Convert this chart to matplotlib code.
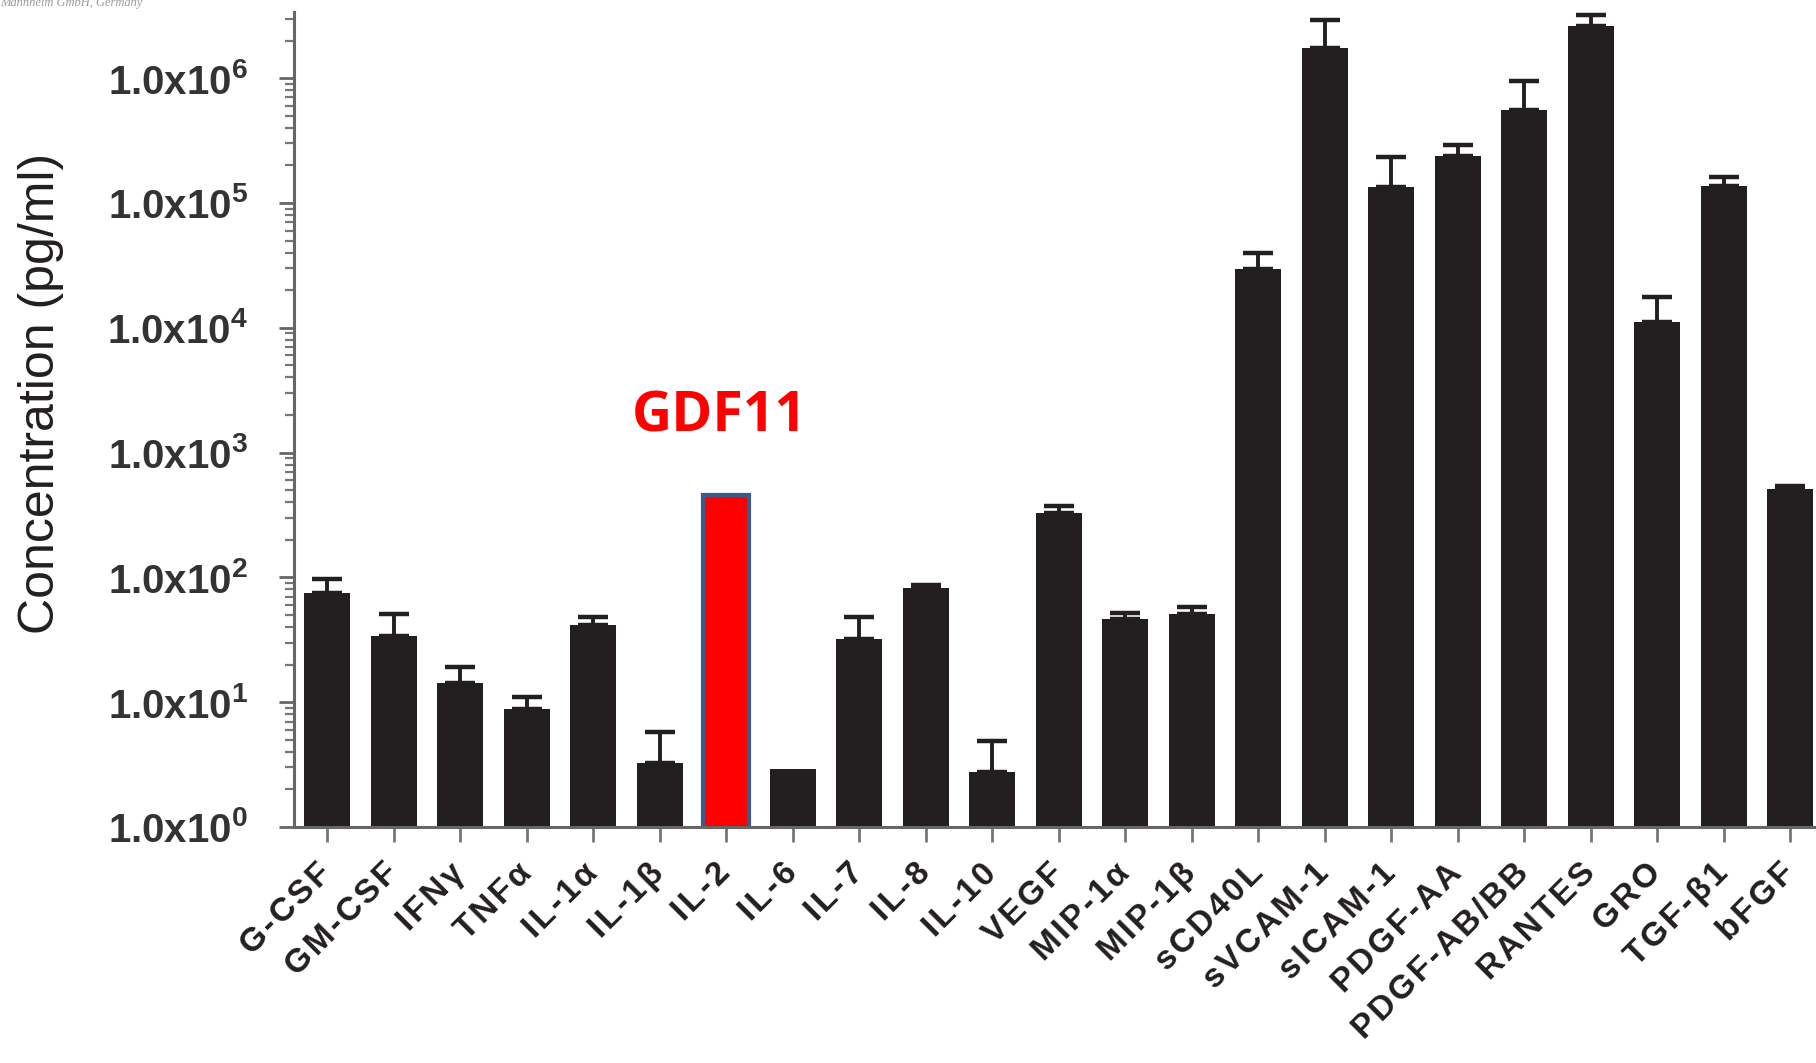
import numpy as np
import matplotlib
matplotlib.use("Agg")
import matplotlib.pyplot as plt
from matplotlib.ticker import FixedLocator, LogLocator, NullFormatter

plt.rcParams["font.family"] = ["Liberation Sans", "DejaVu Sans"]
plt.rcParams["mathtext.fontset"] = "custom"
plt.rcParams["mathtext.rm"] = "Liberation Sans"
plt.rcParams["mathtext.bf"] = "Liberation Sans:bold"

# Cytokine / growth-factor panel, mean concentration and upper error (pg/ml)
analytes = ["G-CSF", "GM-CSF", "IFN\u03b3", "TNF\u03b1", "IL-1\u03b1", "IL-1\u03b2",
            "IL-2", "IL-6", "IL-7", "IL-8", "IL-10", "VEGF", "MIP-1\u03b1",
            "MIP-1\u03b2", "sCD40L", "sVCAM-1", "sICAM-1", "PDGF-AA",
            "PDGF-AB/BB", "RANTES", "GRO", "TGF-\u03b21", "bFGF"]
means = [75, 34, 14.3, 8.8, 41.6, 3.25,
         460, 2.9, 32, 82, 2.76, 328, 46,
         51, 2.95e4, 1.75e6, 1.35e5, 2.4e5,
         5.6e5, 2.63e6, 1.11e4, 1.37e5, 510]
upper = [97, 51, 19, 11, 48, 5.8,
         np.nan, np.nan, 48, 87, 4.9, 372, 52,
         58, 3.95e4, 2.9e6, 2.32e5, 2.9e5,
         9.5e5, 3.18e6, 1.78e4, 1.6e5, 540]
highlight = "IL-2"
highlight_label = "GDF11"
decades = [0, 1, 2, 3, 4, 5, 6]

means = np.array(means, dtype=float)
upper = np.array(upper, dtype=float)
x = np.arange(len(analytes))

fig = plt.figure(figsize=(18.16, 10.63), dpi=100)
W, H = 1816, 1063
ax = fig.add_axes([294 / W, 1 - 827 / H, (W - 294) / W, (827 - 12) / H])

bar_dark = "#231f20"
hi = analytes.index(highlight)
colors = [bar_dark] * len(analytes)
edges = [bar_dark] * len(analytes)
lws = [0.0] * len(analytes)
colors[hi] = "#ff0000"
edges[hi] = "#3b5b8c"
lws[hi] = 3.0

ax.bar(x, means, width=0.69, color=colors, edgecolor=edges, linewidth=lws, zorder=2)

err_hi = np.where(np.isnan(upper), 0, upper - means)
has = ~np.isnan(upper)
ax.errorbar(x[has], means[has], yerr=[np.zeros(has.sum()), err_hi[has]], fmt="none",
            ecolor=bar_dark, elinewidth=2.8, capsize=10.5, capthick=3.2, zorder=1)

ax.set_yscale("log")
ax.set_ylim(1, 10 ** 6.53)
ax.set_xlim(-0.5, 22.39)

ax.yaxis.set_major_locator(FixedLocator([10.0 ** d for d in decades]))
ax.yaxis.set_minor_locator(LogLocator(base=10, subs=np.arange(2, 10)))
ax.yaxis.set_minor_formatter(NullFormatter())
ax.set_yticklabels([r"$\mathbf{1.0x10^{%d}}$" % d for d in decades],
                   fontsize=29, color="#333333")

# open up the letter spacing of the category names slightly
spaced = ["\u200a".join(name) for name in analytes]
ax.set_xticks(x)
ax.set_xticklabels(spaced, rotation=45, ha="right", va="center",
                   rotation_mode="anchor", fontsize=24, fontweight="bold",
                   color="#231f20")

for s in ("top", "right"):
    ax.spines[s].set_visible(False)
for s in ("left", "bottom"):
    ax.spines[s].set_color("#666666")
    ax.spines[s].set_linewidth(2.2)

ax.tick_params(axis="y", which="major", length=11, width=2, color="#666666", pad=22)
ax.tick_params(axis="y", which="minor", length=6.5, width=1.6, color="#777777")
ax.tick_params(axis="x", which="major", length=11, width=2, color="#777777", pad=19)

fig.text(41 / W, 1 - 393 / H, "Concentration (pg/ml)", rotation=90,
         ha="center", va="center", fontsize=36, color="#231f20")

ax.annotate(highlight_label, xy=(hi, means[hi]), xytext=(-5, 56),
            textcoords="offset points", ha="center", va="center",
            fontsize=40, fontweight="bold", color="#ff0000", family="Open Sans")

fig.text(0.0, 1.003, "Mannheim GmbH, Germany", fontsize=9, color="#999999",
         style="italic", family="Liberation Serif", ha="left", va="top")

fig.savefig("out.png", dpi=100, facecolor="white")
